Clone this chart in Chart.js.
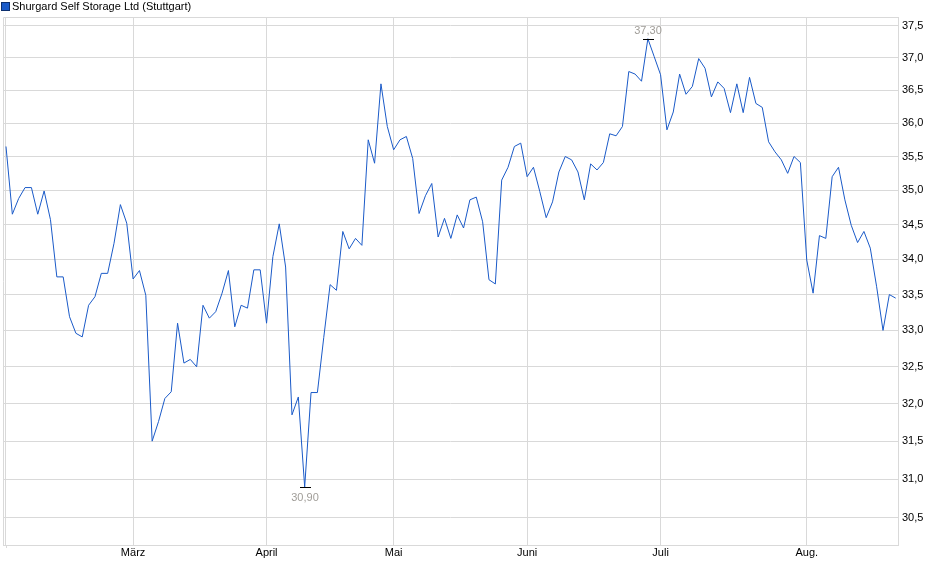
<!DOCTYPE html>
<html>
<head>
<meta charset="utf-8">
<script src="https://cdn.jsdelivr.net/npm/chart.js@4.4.1/dist/chart.umd.min.js"></script>
<style>
  html, body { margin: 0; padding: 0; background: #fff; }
  #wrap { width: 940px; height: 579px; position: relative; }
</style>
</head>
<body>
<div id="wrap"><canvas id="c"></canvas></div>
<script>
// Series label
const seriesLabel = 'Shurgard Self Storage Ltd (Stuttgart)';

// Daily closing prices (trading days, Feb 3 – Aug 21)
const prices = [
  35.65, 34.65, 34.88, 35.04, 35.04, 34.65, 34.99, 34.57, 33.75, 33.75,
  33.19, 32.96, 32.91, 33.35, 33.47, 33.80, 33.80, 34.23, 34.79, 34.52,
  33.72, 33.84, 33.49, 31.50, 31.76, 32.07, 32.16, 33.10, 32.55, 32.60,
  32.50, 33.35, 33.17, 33.26, 33.52, 33.84, 33.05, 33.35, 33.31, 33.85,
  33.85, 33.10, 34.04, 34.51, 33.89, 31.85, 32.09, 30.90, 32.15, 32.15,
  32.90, 33.64, 33.56, 34.40, 34.15, 34.30, 34.20, 35.75, 35.40, 36.60,
  35.95, 35.60, 35.75, 35.80, 35.47, 34.66, 34.92, 35.10, 34.32, 34.59,
  34.30, 34.64, 34.45, 34.86, 34.90, 34.54, 33.71, 33.65, 35.15, 35.34,
  35.65, 35.70, 35.20, 35.34, 34.98, 34.60, 34.83, 35.27, 35.50, 35.45,
  35.27, 34.86, 35.39, 35.30, 35.41, 35.84, 35.81, 35.95, 36.79, 36.75,
  36.64, 37.30, 37.02, 36.74, 35.90, 36.17, 36.75, 36.44, 36.56, 36.99,
  36.84, 36.40, 36.63, 36.53, 36.16, 36.60, 36.16, 36.70, 36.30, 36.24,
  35.72, 35.57, 35.45, 35.25, 35.50, 35.41, 33.99, 33.52, 34.34, 34.30,
  35.20, 35.34, 34.86, 34.49, 34.24, 34.40, 34.16, 33.61, 33.00, 33.50,
  33.45
];

// Month ticks: index of first trading day of each month
const monthTickIndex = [0, 20, 41, 61, 82, 103, 126];
const monthLabels = ['', 'März', 'April', 'Mai', 'Juni', 'Juli', 'Aug.'];

// Y-axis tick values
const yTicks = [30.5, 31.0, 31.5, 32.0, 32.5, 33.0, 33.5, 34.0, 34.5, 35.0, 35.5, 36.0, 36.5, 37.0, 37.5];

const lineColor = '#1a5ac8';
const gridColor = '#d9d9d9';
const fontFamily = "'Liberation Sans', Arial, sans-serif";

const points = prices.map((v, i) => ({ x: i, y: v }));
const fmt = (v, d) => v.toFixed(d).replace('.', ',');

const framePlugin = {
  id: 'frame',
  beforeDatasetsDraw(chart) {
    const { ctx, chartArea: a } = chart;
    ctx.save();
    ctx.strokeStyle = gridColor;
    ctx.lineWidth = 1;
    ctx.beginPath();
    ctx.moveTo(Math.round(a.left) + 0.5, Math.round(a.bottom) + 0.5);
    ctx.lineTo(Math.round(a.left) + 0.5, Math.round(a.top) + 0.5);
    ctx.lineTo(Math.round(a.right) + 0.5, Math.round(a.top) + 0.5);
    ctx.stroke();
    // small tick below the first month gridline
    const tx = Math.round(chart.scales.x.getPixelForValue(monthTickIndex[0])) + 0.5;
    ctx.beginPath();
    ctx.moveTo(tx, Math.round(a.bottom));
    ctx.lineTo(tx, Math.round(a.bottom) + 3);
    ctx.stroke();
    ctx.restore();
  },
  afterDatasetsDraw(chart) {
    const { ctx } = chart;
    const xs = chart.scales.x, ys = chart.scales.y;
    const data = chart.data.datasets[0].data;
    let minI = 0, maxI = 0;
    data.forEach((p, i) => {
      if (p.y < data[minI].y) minI = i;
      if (p.y > data[maxI].y) maxI = i;
    });
    ctx.save();
    ctx.strokeStyle = '#000';
    ctx.lineWidth = 1;
    ctx.font = '11px ' + fontFamily;
    ctx.fillStyle = '#a09d98';
    ctx.textAlign = 'center';
    ctx.textBaseline = 'middle';
    // min marker
    let px = Math.round(xs.getPixelForValue(data[minI].x));
    let py = Math.round(ys.getPixelForValue(data[minI].y)) + 0.5;
    ctx.beginPath(); ctx.moveTo(px - 5, py); ctx.lineTo(px + 6, py); ctx.stroke();
    ctx.fillText(fmt(data[minI].y, 2), px, py + 10);
    // max marker
    px = Math.round(xs.getPixelForValue(data[maxI].x));
    py = Math.round(ys.getPixelForValue(data[maxI].y)) + 0.5;
    ctx.beginPath(); ctx.moveTo(px - 5, py); ctx.lineTo(px + 6, py); ctx.stroke();
    ctx.fillText(fmt(data[maxI].y, 2), px, py - 9);
    ctx.restore();
  },
  afterDraw(chart) {
    const { ctx } = chart;
    ctx.save();
    ctx.fillStyle = lineColor;
    ctx.fillRect(2, 3, 7, 7);
    ctx.strokeStyle = '#0d2f6e';
    ctx.lineWidth = 1;
    ctx.strokeRect(1.5, 2.5, 8, 8);
    ctx.fillStyle = '#000';
    ctx.font = '11px ' + fontFamily;
    ctx.textAlign = 'left';
    ctx.textBaseline = 'middle';
    ctx.fillText(chart.data.datasets[0].label, 12, 7);
    ctx.restore();
  }
};

Chart.defaults.font.family = fontFamily;
Chart.defaults.font.size = 11;
Chart.defaults.color = '#000';

new Chart(document.getElementById('c'), {
  type: 'line',
  data: {
    datasets: [{
      label: seriesLabel,
      data: points,
      borderColor: lineColor,
      borderWidth: 1,
      pointRadius: 0,
      tension: 0,
      fill: false
    }]
  },
  options: {
    responsive: true,
    maintainAspectRatio: false,
    animation: false,
    devicePixelRatio: 1,
    layout: { padding: { top: 17, left: 3, right: 0, bottom: 0 } },
    plugins: { legend: { display: false }, tooltip: { enabled: false } },
    scales: {
      x: {
        type: 'linear',
        min: -0.47,
        max: 140.36,
        afterBuildTicks: (s) => { s.ticks = monthTickIndex.map(v => ({ value: v })); },
        afterFit: (s) => { s.height = 34; },
        ticks: {
          autoSkip: false,
          maxRotation: 0,
          padding: 1,
          color: '#000',
          font: { size: 11 },
          callback: (v, i) => monthLabels[i]
        },
        grid: { color: gridColor, drawTicks: false },
        border: { display: true, color: gridColor }
      },
      y: {
        type: 'logarithmic',
        position: 'right',
        min: 30.156,
        max: 37.642,
        afterBuildTicks: (s) => { s.ticks = yTicks.map(v => ({ value: v })); },
        afterFit: (s) => { s.width = 42; },
        ticks: {
          autoSkip: false,
          padding: 4,
          color: '#000',
          font: { size: 11 },
          callback: (v) => fmt(v, 1)
        },
        grid: { color: gridColor, drawTicks: false },
        border: { display: true, color: gridColor }
      }
    }
  },
  plugins: [framePlugin]
});
</script>
</body>
</html>
